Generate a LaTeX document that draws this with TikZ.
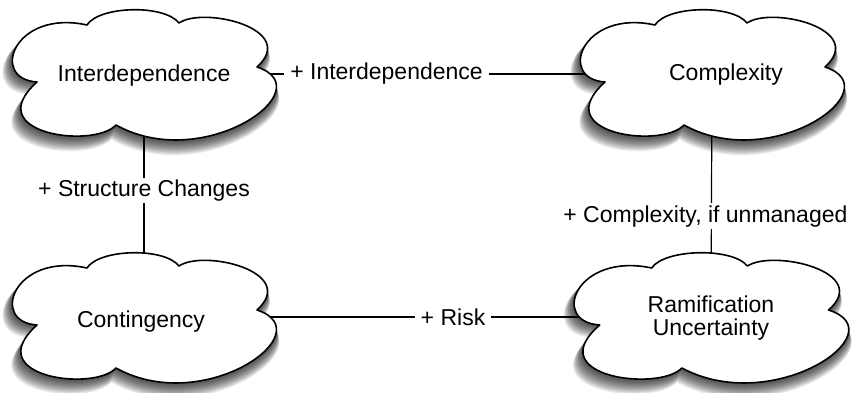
\documentclass[tikz,border=0pt]{standalone}
\usepackage{fontspec}
\setmainfont{Liberation Sans}
% outline of one cloud, relative to its centre (y grows downwards)
\newcommand\cloudoutline{(-107,8)
  .. controls (-155,5) and (-130,-65) .. (-57,-49)
  .. controls (-45,-68) and (20,-70) .. (35,-51)
  .. controls (60,-68) and (155,-45) .. (113,-7)
  .. controls (180,15) and (60,100) .. (-28,51)
  .. controls (-50,75) and (-165,60) .. cycle}
\newcommand\diagfont{\fontsize{23}{23}\selectfont}
\begin{document}
\begin{tikzpicture}[x=1pt,y=-1pt,
  cloudline/.style={draw=black,line width=1.6pt,fill=white,line join=round},
  link/.style={line width=1.2pt},
  linklabel/.style={fill=white,inner xsep=6pt,inner ysep=2pt,font=\diagfont},
  cloudtext/.style={font=\diagfont,align=center},
  pics/cloud/.style={code={\path[cloudline] \cloudoutline;}},
  pics/cloudshadow/.style={code={
    \foreach \i in {1,...,12}{
      \fill[black,opacity=0.085,shift={(-0.3*\i,\i)},scale=1+0.004*\i] \cloudoutline;
    }}}
]
\useasboundingbox (0,0) rectangle (859,393);

% cloud centres
\coordinate (ia) at (144,74);
\coordinate (cx) at (712,74);
\coordinate (cg) at (144,317);
\coordinate (ru) at (711,317);

% soft shadows underneath
\pic at (ia) {cloudshadow};
\pic at (cx) {cloudshadow};
\pic at (cg) {cloudshadow};
\pic[xscale=1.04] at (ru) {cloudshadow};

% influences between the concepts
\draw[link] (ia) -- node[linklabel,pos=0.427] (l1) {+ Interdependence} (cx);
\draw[link] (ia) -- node[linklabel,pos=0.48] (l2) {+ Structure Changes} (cg);
\draw[link] (cx) -- node[linklabel,pos=0.585,xshift=-6pt] (l3) {+ Complexity, if unmanaged} (ru);
\draw[link] (cg) -- node[linklabel,pos=0.545] (l4) {+ Risk} (ru);

% the clouds
\pic at (ia) {cloud};
\pic at (cx) {cloud};
\pic at (cg) {cloud};
\pic[xscale=1.04] at (ru) {cloud};

\node[cloudtext,anchor=base,yshift=-8pt] (interdep) at (ia) {Interdependence};
\node[cloudtext,anchor=base,yshift=-7pt,xshift=14pt] (complex) at (cx) {Complexity};
\node[cloudtext,anchor=base,yshift=-10pt,xshift=-3pt] (conting) at (cg) {Contingency};
\node[cloudtext,yshift=-1.5pt] (ramif) at (ru) {Ramification\\Uncertainty};
\end{tikzpicture}
\end{document}
